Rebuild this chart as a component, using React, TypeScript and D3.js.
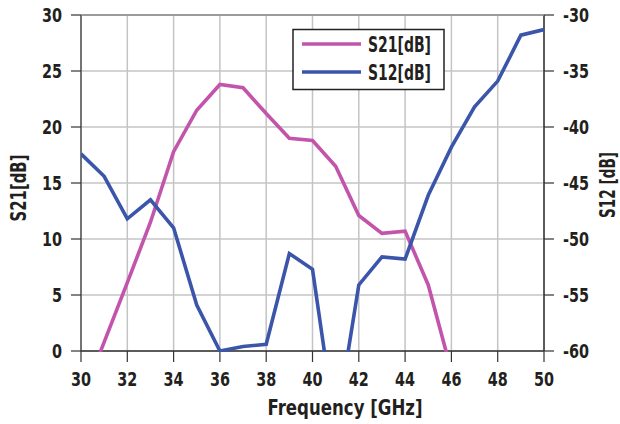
import React from "react";
import * as d3 from "d3";

const freqS21 = [30, 31, 32, 33, 34, 35, 36, 37, 38, 39, 40, 41, 42, 43, 44, 45, 46];
const s21Values = [-4.5, 0.8, 6.1, 11.5, 17.8, 21.5, 23.8, 23.5, 21.2, 19.0, 18.8, 16.5, 12.1, 10.5, 10.7, 5.9, -1.8];

const freqS12 = [30, 31, 32, 33, 34, 35, 36, 37, 38, 39, 40, 41, 42, 43, 44, 45, 46, 47, 48, 49, 50];
const s12Values = [-42.4, -44.4, -48.2, -46.5, -49.0, -55.9, -60.0, -59.6, -59.4, -51.3, -52.7, -67.0, -54.1, -51.6, -51.8, -46.1, -41.8, -38.2, -35.9, -31.8, -31.3];

const xTicks = [30, 32, 34, 36, 38, 40, 42, 44, 46, 48, 50];
const yLeftTicks = [0, 5, 10, 15, 20, 25, 30];
const yRightTicks = [-60, -55, -50, -45, -40, -35, -30];

const seriesNames = ["S21[dB]", "S12[dB]"];
const colors = ["#c255ab", "#3b55aa"];

const FONT = "'DejaVu Sans Condensed', 'Liberation Sans Narrow', 'Roboto', sans-serif";
const INK = "#231f20";

function NText(props: { x: number; y: number; anchor: string; size: number; sx: number; children: React.ReactNode; dy?: string }) {
  const { x, y, anchor, size, sx, children, dy } = props;
  return (
    <text transform={`translate(${x},${y}) scale(${sx},1)`} dy={dy} textAnchor={anchor} fontSize={size} fill={INK}>
      {children}
    </text>
  );
}

export default function App() {
  const W = 620, H = 424;
  const L = 81, R = 544, T = 15, B = 351;
  const x = d3.scaleLinear().domain([30, 50]).range([L, R]);
  const y = d3.scaleLinear().domain([0, 30]).range([B, T]);
  const y2 = d3.scaleLinear().domain([-60, -30]).range([B, T]);

  const line21 = d3.line<number>().x((_, i) => x(freqS21[i])).y((d) => y(d));
  const line12 = d3.line<number>().x((_, i) => x(freqS12[i])).y((d) => y2(d));

  const SX = 0.8;

  return (
    <svg width={W} height={H} style={{ position: "absolute", left: 0, top: 0, background: "#fff" }} fontFamily={FONT} fontWeight="bold">
      <defs>
        <clipPath id="plotclip">
          <rect x={L} y={T} width={R - L} height={B - T + 1} />
        </clipPath>
      </defs>
      {xTicks.map((t) => (
        <line key={"gx" + t} x1={x(t)} x2={x(t)} y1={T} y2={B} stroke="#c4c4c4" strokeWidth={1.5} />
      ))}
      {yLeftTicks.map((t) => (
        <line key={"gy" + t} x1={L} x2={R} y1={y(t)} y2={y(t)} stroke="#c4c4c4" strokeWidth={1.5} />
      ))}
      <line x1={L} x2={L} y1={T} y2={B} stroke="#555" strokeWidth={1.5} />
      <line x1={R} x2={R} y1={T} y2={B} stroke="#333" strokeWidth={1.5} />
      <line x1={L} x2={R} y1={B} y2={B} stroke="#333" strokeWidth={1.5} />
      <line x1={L} x2={R} y1={T} y2={T} stroke="#888" strokeWidth={1.5} />
      {yLeftTicks.map((t) => (
        <g key={"yl" + t}>
          <line x1={L - 10} x2={L} y1={y(t)} y2={y(t)} stroke="#333" strokeWidth={1.2} />
          <NText x={62} y={y(t)} dy="0.36em" anchor="end" size={20} sx={SX}>{t}</NText>
        </g>
      ))}
      {yRightTicks.map((t) => (
        <g key={"yr" + t}>
          <line x1={R} x2={R + 10} y1={y2(t)} y2={y2(t)} stroke="#333" strokeWidth={1.2} />
          <NText x={563} y={y2(t)} dy="0.36em" anchor="start" size={20} sx={SX}>{String(t).replace("\u2212", "-")}</NText>
        </g>
      ))}
      {xTicks.map((t) => (
        <g key={"xb" + t}>
          <line x1={x(t)} x2={x(t)} y1={B} y2={B + 11} stroke="#333" strokeWidth={1.2} />
          <NText x={x(t)} y={386} anchor="middle" size={20} sx={SX}>{t}</NText>
        </g>
      ))}
      <g clipPath="url(#plotclip)">
        <path d={line21(s21Values) || ""} fill="none" stroke={colors[0]} strokeWidth={3.6} />
        <path d={line12(s12Values) || ""} fill="none" stroke={colors[1]} strokeWidth={3.6} />
      </g>
      <text transform={`translate(26, 188) rotate(-90)`} textAnchor="middle" fontSize={21} fill={INK} textLength={67} lengthAdjust="spacingAndGlyphs">S21[dB]</text>
      <text transform={`translate(615, 185) rotate(-90)`} textAnchor="middle" fontSize={21} fill={INK} textLength={66} lengthAdjust="spacingAndGlyphs">S12 [dB]</text>
      <text x={345} y={415} textAnchor="middle" fontSize={22} fill={INK} textLength={155} lengthAdjust="spacingAndGlyphs">Frequency [GHz]</text>
      <rect x={293} y={29.5} width={151} height={60} fill="#fff" stroke="#222" strokeWidth={1.5} />
      {seriesNames.map((n, i) => (
        <g key={n}>
          <line x1={302} x2={361} y1={44 + i * 28} y2={44 + i * 28} stroke={colors[i]} strokeWidth={3.6} />
          <text x={368} y={52 + i * 28} fontSize={20.5} fill={INK} textLength={63} lengthAdjust="spacingAndGlyphs">{n}</text>
        </g>
      ))}
    </svg>
  );
}
